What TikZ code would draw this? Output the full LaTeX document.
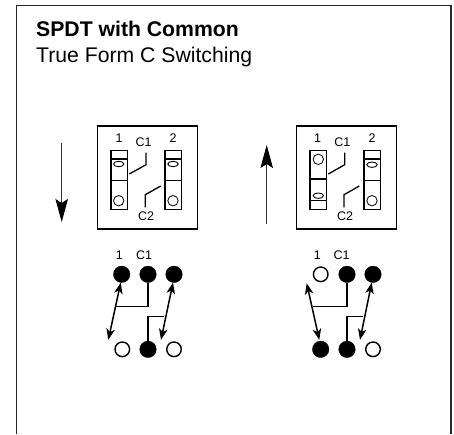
\documentclass[tikz,border=0pt]{standalone}
\usepackage{fontspec}
\setmainfont{Liberation Sans}
\usetikzlibrary{arrows.meta,shapes.geometric}
\tikzset{
  x=1pt,y=-1pt,
  frameline/.style={line width=1.5pt,draw=black!85},
  housing/.style={draw=black,line width=1.4pt,inner sep=0,minimum width=100pt,minimum height=103pt},
  body/.style={draw=black,line width=1.3pt,inner sep=0,minimum width=16.4pt,minimum height=59pt},
  divider/.style={line width=1.2pt,draw=black},
  hole/.style={circle,draw=black,line width=.8pt,inner sep=0,minimum size=10.4pt},
  slot/.style={ellipse,draw=black,line width=.9pt,inner sep=0,minimum width=10.4pt,minimum height=5.4pt},
  wire/.style={line width=1.3pt,draw=black},
  lab/.style={inner sep=0,font=\fontsize{12.5}{13}\selectfont},
  on/.style={circle,fill=black,draw=black,line width=.3pt,inner sep=0,minimum size=16.6pt},
  off/.style={circle,fill=white,draw=black,line width=1.4pt,inner sep=0,minimum size=14.6pt},
  path2/.style={line width=1.5pt,draw=black,{Stealth[length=11pt,width=8.5pt,inset=3pt]}-{Stealth[length=11pt,width=8.5pt,inset=3pt]}},
  travel/.style={line width=1pt,draw=black!80,-{Stealth[length=23pt,width=12.5pt,inset=4pt,color=black]}},
}
\begin{document}
\begin{tikzpicture}
\useasboundingbox (0,0) rectangle (454,434);
% frame, open at the bottom
\coordinate (fa) at (16.7,434);
\coordinate (fb) at (16.7,5.7);
\coordinate (fc) at (451,5.7);
\coordinate (fd) at (451,434);
\draw[frameline] (fa) -- (fb) -- (fc) -- (fd);
\node[anchor=base west,inner sep=0,font=\fontsize{21.2}{24}\selectfont\bfseries] (title) at (36,36.7) {SPDT with Common};
\node[anchor=base west,inner sep=0,font=\fontsize{21.2}{24}\selectfont] (subtitle) at (36,62.7) {True Form C Switching};

% travel arrows
\coordinate (da) at (61.7,143);
\coordinate (db) at (61.7,222);
\draw[travel] (da) -- (db);
\coordinate (ua) at (266.7,223.5);
\coordinate (ub) at (266.7,145);
\draw[travel] (ua) -- (ub);

% left switch
\node[housing] (boxL) at (147.3,177.5) {};
\node[body] (l1) at (119.2,179.8) {};
\node[body] (l2) at (173.2,179.8) {};
\draw[divider] (l1.west |- 0,159) -- (l1.east |- 0,159);
\draw[divider] (l1.west |- 0,180.7) -- (l1.east |- 0,180.7);
\draw[divider] (l2.west |- 0,159) -- (l2.east |- 0,159);
\draw[divider] (l2.west |- 0,180.7) -- (l2.east |- 0,180.7);
\node[slot] (l1s) at (118.7,164) {};
\node[hole] (l1h) at (118.7,200.7) {};
\node[slot] (l2s) at (173,164) {};
\node[hole] (l2h) at (173,200.7) {};
\node[lab] (ln1) at (119,138) {1};
\node[lab] (lnc1) at (143.7,142) {C1};
\node[lab] (ln2) at (173,138) {2};
\node[lab] (lnc2) at (146,216) {C2};
\coordinate (lc1a) at (129.3,174);
\coordinate (lc1b) at (146,164.7);
\coordinate (lc1c) at (146,152.7);
\draw[wire] (lc1a) -- (lc1b) -- (lc1c);
\coordinate (lc2a) at (160.7,186);
\coordinate (lc2b) at (145.3,194.7);
\coordinate (lc2c) at (145.3,207.3);
\draw[wire] (lc2a) -- (lc2b) -- (lc2c);

% right switch
\node[housing] (boxR) at (346.2,177.5) {};
\node[body] (r1) at (318.2,179.8) {};
\node[body] (r2) at (372.2,179.8) {};
\draw[divider] (r1.west |- 0,179) -- (r1.east |- 0,179);
\draw[divider] (r1.west |- 0,200.7) -- (r1.east |- 0,200.7);
\draw[divider] (r2.west |- 0,159) -- (r2.east |- 0,159);
\draw[divider] (r2.west |- 0,180.7) -- (r2.east |- 0,180.7);
\node[hole] (r1h) at (318.3,159.3) {};
\node[slot] (r1s) at (318.3,195.7) {};
\node[slot] (r2s) at (372,164.7) {};
\node[hole] (r2h) at (372,200.7) {};
\node[lab] (rn1) at (317.7,138) {1};
\node[lab] (rnc1) at (342.3,142) {C1};
\node[lab] (rn2) at (372,138) {2};
\node[lab] (rnc2) at (345,216) {C2};
\coordinate (rc1a) at (328.3,174);
\coordinate (rc1b) at (344.7,164.7);
\coordinate (rc1c) at (344.7,152.7);
\draw[wire] (rc1a) -- (rc1b) -- (rc1c);
\coordinate (rc2a) at (359.3,186);
\coordinate (rc2b) at (344,194.7);
\coordinate (rc2c) at (344,207.3);
\draw[wire] (rc2a) -- (rc2b) -- (rc2c);

% left contact diagram
\node[lab] (lt1) at (119.3,254.7) {1};
\node[lab] (ltc) at (144,254.7) {C1};
\node[on] (La) at (121.7,274.3) {};
\node[on] (Lb) at (148,274.3) {};
\node[on] (Lc) at (174,274.3) {};
\node[off] (Ld) at (122.3,349.3) {};
\node[on] (Le) at (148,349.3) {};
\node[off] (Lf) at (174,349.3) {};
\coordinate (Lp1) at (120.7,282.7);
\coordinate (Lp2) at (108.3,339.8);
\coordinate (Lp3) at (173,282.7);
\coordinate (Lp4) at (161,339.8);
\coordinate (Lj1) at (115.9,306.7);
\coordinate (Lj2) at (148,306.7);
\coordinate (Lj3) at (148,316.3);
\coordinate (Lj4) at (164.3,316.3);
\draw[path2] (Lp1) -- (Lp2);
\draw[path2] (Lp3) -- (Lp4);
\draw[wire] (Lj1) -- (Lj2) -- (Lb);
\draw[wire] (Le) -- (Lj3) -- (Lj4);

% right contact diagram
\node[lab] (rt1) at (317.3,254.7) {1};
\node[lab] (rtc) at (341.7,254.7) {C1};
\node[off] (Ra) at (320.7,274.3) {};
\node[on] (Rb) at (347,274.3) {};
\node[on] (Rc) at (373,274.3) {};
\node[on] (Rd) at (320.7,349.3) {};
\node[on] (Re) at (347,349.3) {};
\node[off] (Rf) at (373,349.3) {};
\coordinate (Rp1) at (306.7,283.3);
\coordinate (Rp2) at (319.3,339.8);
\coordinate (Rp3) at (371.7,282.7);
\coordinate (Rp4) at (360,339.8);
\coordinate (Rj1) at (312.7,306.7);
\coordinate (Rj2) at (347,306.7);
\coordinate (Rj3) at (347,316.3);
\coordinate (Rj4) at (363.3,316.3);
\draw[path2] (Rp1) -- (Rp2);
\draw[path2] (Rp3) -- (Rp4);
\draw[wire] (Rj1) -- (Rj2) -- (Rb);
\draw[wire] (Re) -- (Rj3) -- (Rj4);
\end{tikzpicture}
\end{document}
